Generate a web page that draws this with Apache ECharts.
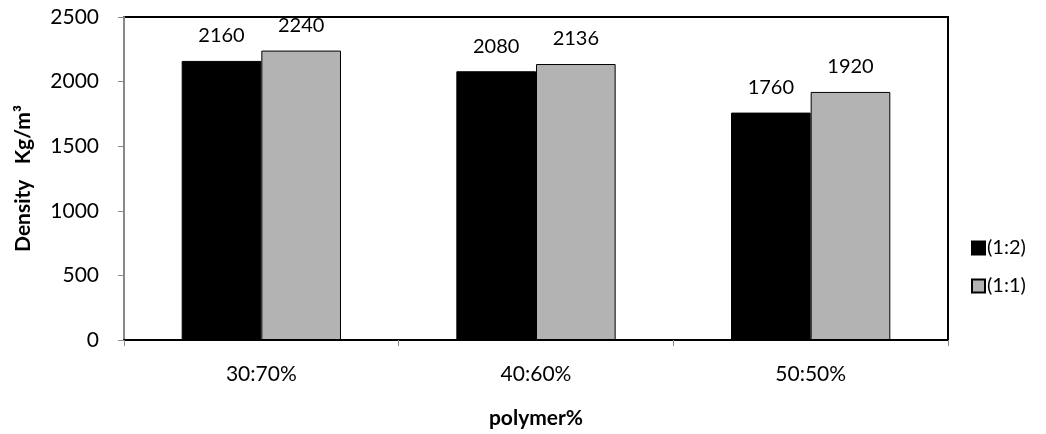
<!DOCTYPE html>
<html>
<head>
<meta charset="utf-8">
<script src="https://cdn.jsdelivr.net/npm/echarts@6/dist/echarts.min.js"></script>
<style>
html,body{margin:0;padding:0;background:#fff;}
#main{width:1046px;height:434px;}
</style>
</head>
<body>
<div id="main"></div>
<script>
// 数据
var categories = ['30:70%', '40:60%', '50:50%'];
var seriesNames = ['(1:2)', '(1:1)'];
var ratio12 = [2160, 2080, 1760];
var ratio11 = [2240, 2136, 1920];
var yTicks = [0, 500, 1000, 1500, 2000, 2500];

var fontFam = 'Lato';

var myChart = echarts.init(document.getElementById('main'));

var labelStyle = {
	show: true,
	position: 'top',
	distance: 15,
	color: '#000',
	fontSize: 20,
	fontFamily: fontFam
};

option = {
	animation: false,
	backgroundColor: '#fff',
	textStyle: {fontFamily: fontFam},
	grid: {
		left: 124,
		right: 98,
		top: 17,
		bottom: 94,
		containLabel: false,
		outerBoundsMode: 'none',
		show: true,
		borderColor: '#000',
		borderWidth: 2
	},
	legend: {
		orient: 'vertical',
		left: 966,
		top: 233,
		itemWidth: 13,
		itemHeight: 13,
		itemGap: 18,
		icon: 'rect',
		data: seriesNames,
		textStyle: {color: '#000', fontSize: 20, fontFamily: fontFam, padding: [0, 0, 0, -3]}
	},
	xAxis: {
		type: 'category',
		data: categories,
		name: 'polymer%',
		nameLocation: 'middle',
		nameGap: 68,
		nameTextStyle: {color: '#000', fontSize: 21, fontWeight: 'bold', fontFamily: fontFam},
		axisLine: {lineStyle: {color: '#000', width: 2}},
		axisTick: {show: true, length: 6, lineStyle: {color: '#888'}},
		axisLabel: {color: '#000', fontSize: 21, fontFamily: fontFam, margin: 24}
	},
	yAxis: {
		type: 'value',
		min: yTicks[0],
		max: yTicks[yTicks.length - 1],
		interval: 500,
		name: 'Density   Kg/m\u00b3',
		nameLocation: 'middle',
		nameGap: 90,
		nameTextStyle: {color: '#000', fontSize: 21, fontWeight: 'bold', fontFamily: fontFam},
		axisLine: {show: true, lineStyle: {color: '#888', width: 2}},
		axisTick: {show: true, length: 6, lineStyle: {color: '#888'}},
		splitLine: {show: false},
		axisLabel: {color: '#000', fontSize: 21, fontFamily: fontFam, margin: 25,
			formatter: function(v) { return String(v); }}
	},
	series: [{
		name: seriesNames[0],
		type: 'bar',
		data: ratio12,
		barGap: '0%',
		barCategoryGap: '42%',
		itemStyle: {color: '#000', borderColor: '#000', borderWidth: 1},
		label: labelStyle
	}, {
		name: seriesNames[1],
		type: 'bar',
		data: ratio11,
		itemStyle: {color: '#b3b3b3', borderColor: '#000', borderWidth: 1},
		label: labelStyle
	}]
};

myChart.setOption(option);
</script>
</body>
</html>
